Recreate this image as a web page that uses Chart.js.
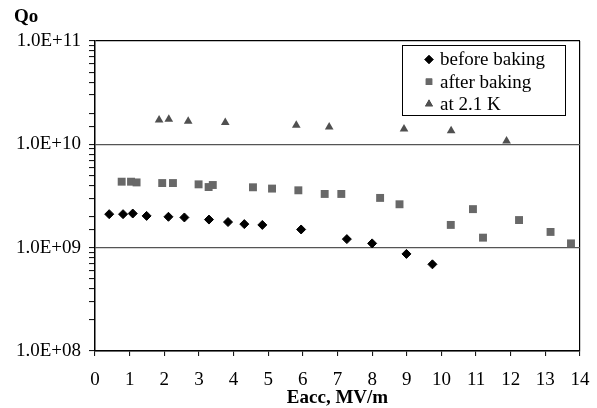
<!DOCTYPE html>
<html>
<head>
<meta charset="utf-8">
<script src="https://cdn.jsdelivr.net/npm/chart.js@4/dist/chart.umd.min.js"></script>
<style>
  html, body { margin: 0; padding: 0; background: #fff; overflow: hidden; }
  #wrap { width: 597px; height: 408px; position: relative; }
  canvas { display: block; }
</style>
</head>
<body>
<div id="wrap"><canvas id="c"></canvas></div>
<script>
// ---- data ----
const beforeX = [0.41, 0.81, 1.09, 1.49, 2.12, 2.58, 3.29, 3.84, 4.31, 4.83, 5.95, 7.27, 8.00, 8.99, 9.74];
const beforeY = [2.11e9, 2.11e9, 2.14e9, 2.03e9, 1.99e9, 1.96e9, 1.87e9, 1.77e9, 1.69e9, 1.66e9, 1.50e9, 1.21e9, 1.10e9, 8.7e8, 6.9e8];

const afterX = [0.77, 1.04, 1.20, 1.94, 2.25, 2.99, 3.28, 3.40, 4.56, 5.11, 5.87, 6.63, 7.11, 8.23, 8.79, 10.27, 10.91, 11.20, 12.24, 13.15, 13.74];
const afterY = [4.35e9, 4.35e9, 4.28e9, 4.22e9, 4.22e9, 4.10e9, 3.86e9, 4.04e9, 3.84e9, 3.73e9, 3.59e9, 3.31e9, 3.31e9, 3.03e9, 2.63e9, 1.66e9, 2.36e9, 1.25e9, 1.85e9, 1.42e9, 1.10e9];

const k21X = [1.85, 2.13, 2.69, 3.76, 5.81, 6.76, 8.92, 10.28, 11.88];
const k21Y = [1.72e10, 1.75e10, 1.67e10, 1.63e10, 1.53e10, 1.47e10, 1.41e10, 1.35e10, 1.08e10];

const seriesNames = ['before baking', 'after baking', 'at 2.1 K'];
const xTickLabels = ['0','1','2','3','4','5','6','7','8','9','10','11','12','13','14'];
const yTickLabels = {1e8: '1.0E+08', 1e9: '1.0E+09', 1e10: '1.0E+10', 1e11: '1.0E+11'};
const yTitle = 'Qo';
const xTitle = 'Eacc, MV/m';

const zip = (xs, ys) => xs.map((x, i) => ({x: x, y: ys[i]}));
const FONT = "'Liberation Serif', 'Times New Roman', serif";
const isDecade = v => Math.abs(Math.log10(v) - Math.round(Math.log10(v))) < 1e-6;

new Chart(document.getElementById('c'), {
  type: 'scatter',
  data: {
    datasets: [
      { label: seriesNames[0], data: zip(beforeX, beforeY), pointStyle: 'rectRot', radius: 4.5,
        backgroundColor: '#000', borderColor: '#000', borderWidth: 1 },
      { label: seriesNames[1], data: zip(afterX, afterY), pointStyle: 'rect', radius: 5.6,
        backgroundColor: '#686868', borderColor: '#686868', borderWidth: 0 },
      { label: seriesNames[2], data: zip(k21X, k21Y), pointStyle: 'triangle', radius: 5,
        backgroundColor: '#505050', borderColor: '#505050', borderWidth: 0 }
    ]
  },
  options: {
    responsive: true,
    maintainAspectRatio: false,
    animation: false,
    devicePixelRatio: 1,
    layout: { padding: { left: 14, right: 17, top: 0, bottom: 0 } },
    plugins: {
      tooltip: { enabled: false },
      title: {
        display: true, text: yTitle, align: 'start',
        color: '#000', font: { family: FONT, size: 19, weight: 'bold', lineHeight: 1 },
        padding: { top: 7.5, bottom: 14.5 }
      },
      legend: { display: false }
    },
    scales: {
      x: {
        type: 'linear', min: 0, max: 14,
        border: { display: true, color: '#000', width: 1.5 },
        grid: {
          drawOnChartArea: true,
          color: ctx => (ctx.tick && ctx.tick.value === 14) ? '#000' : 'rgba(0,0,0,0)',
          lineWidth: 1.2,
          tickColor: '#000', tickLength: 5, tickWidth: 1
        },
        ticks: {
          stepSize: 1, color: '#000', padding: 15, autoSkip: false, maxRotation: 0,
          font: { family: FONT, size: 19, lineHeight: 1 },
          callback: (v) => xTickLabels[v] !== undefined ? xTickLabels[v] : ''
        },
        title: {
          display: true, text: xTitle, color: '#000',
          font: { family: FONT, size: 19, weight: 'bold', lineHeight: 1 }, padding: { top: -16, bottom: 0 }
        },
        afterFit: s => { s.paddingRight = 0; s.paddingLeft = 0; }
      },
      y: {
        type: 'logarithmic', min: 1e8, max: 1e11,
        border: { display: true, color: '#000', width: 1.5 },
        grid: {
          color: ctx => {
            const v = ctx.tick && ctx.tick.value;
            if (!v || !isDecade(v)) return 'rgba(0,0,0,0)';
            return Math.round(Math.log10(v)) === 11 ? '#000' : '#555';
          },
          lineWidth: 1.2,
          tickColor: '#000', tickLength: 6, tickWidth: 1
        },
        ticks: {
          color: '#000', autoSkip: false, padding: 8,
          font: { family: FONT, size: 19, lineHeight: 1 },
          callback: (v) => {
            const key = Math.pow(10, Math.round(Math.log10(v)));
            return isDecade(v) && yTickLabels[key] ? yTickLabels[key] : '';
          }
        },
        afterFit: s => { s.width = 81; }
      }
    }
  },
  plugins: [{
    id: 'boxLegend',
    afterDraw(chart) {
      const ctx = chart.ctx;
      const ds = chart.data.datasets;
      const left = 402, top = 45, w = 163, h = 70;
      ctx.save();
      ctx.fillStyle = '#fff';
      ctx.fillRect(left, top, w, h);
      ctx.strokeStyle = '#000';
      ctx.lineWidth = 1;
      ctx.strokeRect(left + 0.5, top + 0.5, w, h);
      ctx.font = '19px ' + FONT;
      ctx.textBaseline = 'middle';
      ctx.fillStyle = '#000';
      ds.forEach((d, i) => {
        const cy = top + 14.5 + i * 22.3;
        Chart.helpers.drawPoint(ctx, {
          pointStyle: d.pointStyle, radius: d.pointStyle === 'rect' ? 4.5 : (d.pointStyle === 'triangle' ? 4.5 : 4),
          borderWidth: d.borderWidth
        }, 429, cy);
        ctx.fillStyle = d.backgroundColor;
        ctx.strokeStyle = d.borderColor;
        ctx.fill();
        if (d.borderWidth) ctx.stroke();
        ctx.fillStyle = '#000';
        ctx.fillText(d.label, 440, cy + 1);
      });
      ctx.restore();
    }
  }]
});
</script>
</body>
</html>
